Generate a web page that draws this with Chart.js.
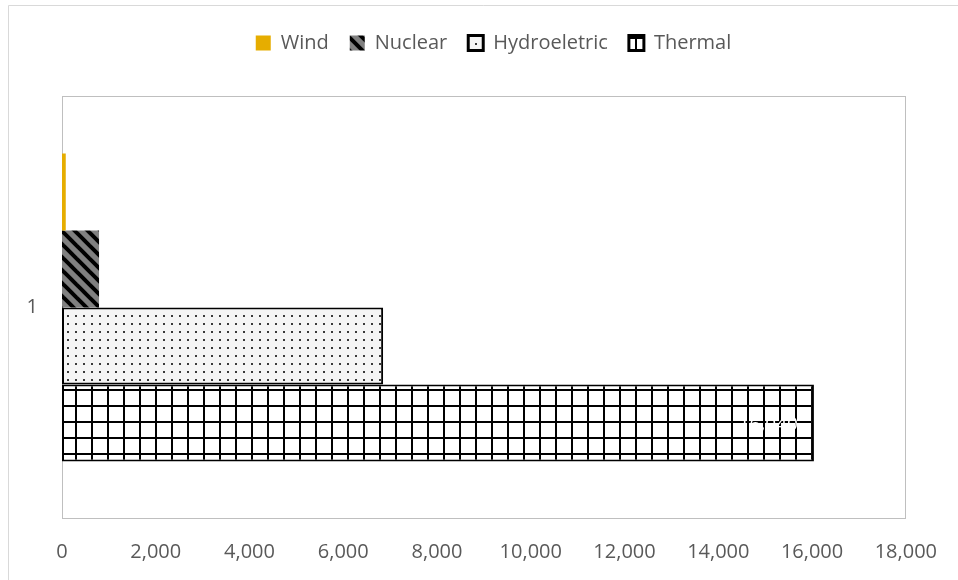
<!DOCTYPE html>
<html>
<head>
<meta charset="utf-8">
<script src="https://cdn.jsdelivr.net/npm/chart.js@4/dist/chart.umd.min.js"></script>
<style>
  html, body { margin: 0; padding: 0; background: #ffffff; }
  #wrap { width: 958px; height: 580px; position: relative; }
</style>
</head>
<body>
<div id="wrap"><canvas id="c" width="958" height="580"></canvas></div>
<script>
// Installed capacity by source (single category)
const categories = ['1'];
const seriesNames = ['Wind', 'Nuclear', 'Hydroeletric', 'Thermal'];
const windValues = [80];
const nuclearValues = [790];
const hydroValues = [6850];
const thermalValues = [16040];
const xTickValues = [0, 2000, 4000, 6000, 8000, 10000, 12000, 14000, 16000, 18000];

const TEXT = '#595959';
const FONT = 'Open Sans';

// ---- fill patterns ----
function tile(w, h, paint) {
  const c = document.createElement('canvas');
  c.width = w; c.height = h;
  const g = c.getContext('2d');
  paint(g, w, h);
  return c;
}
const ctx0 = document.getElementById('c').getContext('2d');

// wide downward diagonal: black stripes on gray
const stripeTile = tile(13, 13, (g, w, h) => {
  g.fillStyle = '#808080';
  g.fillRect(0, 0, w, h);
  g.strokeStyle = '#000000';
  g.lineWidth = 4;
  for (const o of [-w, 0, w]) {
    g.beginPath();
    g.moveTo(o - 2, -2);
    g.lineTo(o + w + 2, h + 2);
    g.stroke();
  }
});
const stripePattern = ctx0.createPattern(stripeTile, 'repeat');

// small dots on a pale background
const dotTile = tile(8, 8, (g, w, h) => {
  g.fillStyle = '#f5f5f5';
  g.fillRect(0, 0, w, h);
  g.fillStyle = '#3a3a3a';
  g.fillRect(3, 3, 2, 2);
});
const dotPattern = ctx0.createPattern(dotTile, 'repeat');

// large grid: black lines on white
const gridTile = tile(16, 16, (g, w, h) => {
  g.fillStyle = '#ffffff';
  g.fillRect(0, 0, w, h);
  g.fillStyle = '#000000';
  g.fillRect(0, 0, 2, h);
  g.fillRect(0, 0, w, 2);
});
const gridPattern = ctx0.createPattern(gridTile, 'repeat');
if (gridPattern.setTransform) gridPattern.setTransform(new DOMMatrix().translate(11, 5));

// ---- layout helpers ----
const LEGEND_PAD = 21;
const LEGEND_FONT = 20;
const LEGEND_ITEM_H = 20;

const layoutFix = {
  id: 'layoutFix',
  beforeLayout(chart) {
    const lg = chart.legend;
    if (lg && !lg._patched) {
      const fit = lg.fit;
      lg.fit = function () { fit.call(this); this.height = 96; };
      lg._patched = true;
    }
  },
  afterLayout(chart) {
    const lg = chart.legend;
    if (!lg) return;
    const shift = 493.5 - (lg.left + lg.right) / 2;
    lg.left += shift;
    lg.right += shift;
    lg.top = 43 - LEGEND_PAD - LEGEND_ITEM_H / 2;
    lg.bottom = lg.top + lg.height;
  }
};

const frames = {
  id: 'frames',
  beforeDraw(chart) {
    const c = chart.ctx;
    c.save();
    c.fillStyle = '#ffffff';
    c.fillRect(0, 0, chart.width, chart.height);
    c.strokeStyle = '#d9d9d9';
    c.lineWidth = 1;
    c.beginPath();
    c.moveTo(8.5, chart.height);
    c.lineTo(8.5, 5.5);
    c.lineTo(chart.width, 5.5);
    c.stroke();
    c.restore();
  },
  beforeDatasetsDraw(chart) {
    const a = chart.chartArea;
    const c = chart.ctx;
    c.save();
    c.strokeStyle = '#bfbfbf';
    c.lineWidth = 1;
    c.strokeRect(Math.round(a.left) + 0.5, Math.round(a.top) + 0.5,
                 Math.round(a.right - a.left) - 1, Math.round(a.bottom - a.top) - 1);
    c.restore();
  }
};

// value label inside the end of the Thermal bar
const thermalLabel = {
  id: 'thermalLabel',
  afterDatasetsDraw(chart) {
    const meta = chart.getDatasetMeta(3);
    const c = chart.ctx;
    c.save();
    c.fillStyle = '#ffffff';
    c.font = '19px "' + FONT + '"';
    c.textAlign = 'right';
    c.textBaseline = 'middle';
    meta.data.forEach((bar, i) => {
      const v = thermalValues[i];
      c.fillText(v.toLocaleString('en-US'), bar.x - 16, bar.y + 2);
    });
    c.restore();
  }
};

const chart = new Chart(ctx0, {
  type: 'bar',
  data: {
    labels: categories,
    datasets: [
      { label: seriesNames[0], data: windValues, backgroundColor: '#e6ad00', borderWidth: 0 },
      { label: seriesNames[1], data: nuclearValues, backgroundColor: stripePattern, borderWidth: 0 },
      { label: seriesNames[2], data: hydroValues, backgroundColor: dotPattern, borderColor: '#000000', borderWidth: 2, borderSkipped: false },
      { label: seriesNames[3], data: thermalValues, backgroundColor: gridPattern, borderColor: '#000000', borderWidth: 2, borderSkipped: false }
    ]
  },
  options: {
    indexAxis: 'y',
    responsive: false,
    animation: false,
    devicePixelRatio: 1,
    datasets: { bar: { barPercentage: 1, categoryPercentage: 0.728 } },
    layout: { padding: { left: 0, right: 52, top: 0, bottom: 0 } },
    plugins: {
      tooltip: { enabled: false },
      legend: {
        position: 'top',
        labels: {
          boxWidth: 15,
          boxHeight: 15,
          padding: LEGEND_PAD,
          color: TEXT,
          font: { family: FONT, size: LEGEND_FONT },
          generateLabels(chart) {
            return chart.data.datasets.map((ds, i) => ({
              text: ds.label,
              fillStyle: ds.backgroundColor,
              strokeStyle: '#000000',
              lineWidth: i >= 2 ? 3 : 0,
              fontColor: TEXT,
              hidden: false,
              datasetIndex: i
            }));
          }
        }
      }
    },
    scales: {
      x: {
        type: 'linear',
        min: 0,
        max: 18000,
        afterBuildTicks(scale) { scale.ticks = xTickValues.map(v => ({ value: v })); },
        ticks: {
          color: TEXT,
          font: { family: FONT, size: 20 },
          padding: 21,
          maxRotation: 0,
          callback: v => Number(v).toLocaleString('en-US')
        },
        grid: { display: false, drawTicks: false },
        border: { display: false },
        afterFit(scale) { scale.height = 61; }
      },
      y: {
        type: 'category',
        ticks: { color: TEXT, font: { family: FONT, size: 20 }, padding: 24 },
        grid: { display: false, drawTicks: false },
        border: { display: false },
        afterFit(scale) { scale.width = 62; }
      }
    }
  },
  plugins: [layoutFix, frames, thermalLabel]
});
</script>
</body>
</html>
